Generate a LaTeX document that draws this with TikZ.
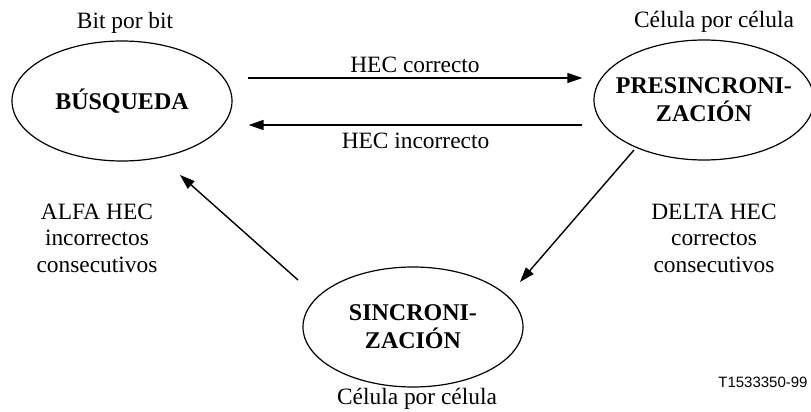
\documentclass[tikz,border=0pt]{standalone}
\usepackage{fontspec}
\setmainfont{Liberation Serif}
\setsansfont{Liberation Sans}
\usetikzlibrary{positioning, arrows.meta, shapes.geometric}

\begin{document}
\begin{tikzpicture}[
        x=0.5pt, y=-0.5pt,
        state/.style={
            ellipse,
            draw,
            line width=0.6pt,
            minimum width=110pt,
            minimum height=60pt,
            inner xsep=-10pt,
            inner ysep=0pt,
            align=center,
            font=\fontsize{12}{14}\selectfont\bfseries
        },
        arrow/.style={
            -{Triangle[length=7.5pt,width=5pt]},
            line width=0.7pt
        },
        txt/.style={
            align=center,
            font=\fontsize{11.7}{13.3}\selectfont
        }
    ]
    \useasboundingbox (0,0) rectangle (811,412);

    % States
    \node[state] (busq) at (122,101) {BÚSQUEDA};
    \node[state] (pres) at (704,100) {PRESINCRONI-\\ZACIÓN};
    \node[state] (sinc) at (413,327) {SINCRONI-\\ZACIÓN};

    % Texts beside the states
    \node[txt, above=0pt of busq, xshift=1.5pt] (lblBit) {Bit por bit};
    \node[txt, above=0pt of pres, xshift=5pt] (lblPres) {Célula por célula};
    \node[txt, below=-3pt of sinc, xshift=2pt] (lblSinc) {Célula por célula};
    \node[txt] (lblAlfa) at (97,238) {ALFA HEC\\incorrectos\\consecutivos};
    \node[txt] (lblDelta) at (714,238) {DELTA HEC\\correctos\\consecutivos};
    \node[anchor=east, inner sep=1pt, font=\sffamily\fontsize{7.5}{9}\selectfont] (lblFig) at (810,382) {T1533350-99};

    % Arrows
    \draw[arrow] ([shift={(15,-23)}]busq.east) -- node[txt, above=2.5pt, inner sep=0pt] {HEC correcto} ([shift={(-11,-22)}]pres.west);
    \draw[arrow] ([shift={(-11,25)}]pres.west) -- node[txt, below=3.5pt, inner sep=0pt] {HEC incorrecto} ([shift={(16,24)}]busq.east);
    \draw[arrow] ([shift={(-70,50)}]pres.center) -- ([shift={(107,-45)}]sinc.center);
    \draw[arrow] ([shift={(-115,-47)}]sinc.center) -- ([shift={(58,74)}]busq.center);

\end{tikzpicture}
\end{document}
